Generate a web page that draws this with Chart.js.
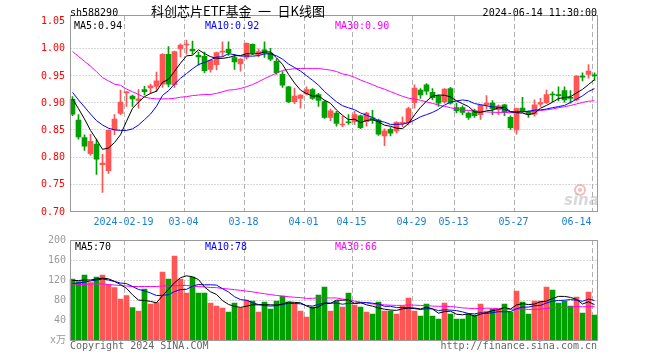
<!DOCTYPE html>
<html><head><meta charset="utf-8">
<script src="https://cdn.jsdelivr.net/npm/chart.js@4/dist/chart.umd.min.js"></script>
<style>
html,body{margin:0;padding:0;background:#fff;}
#wrap{position:relative;width:660px;height:360px;overflow:hidden;background:#fff;}
#c1{position:absolute;left:0;top:0;width:660px;height:232px;}
#c2{position:absolute;left:0;top:230px;width:660px;height:130px;}
</style></head><body>
<div id="wrap"><canvas id="c1" width="660" height="232"></canvas><canvas id="c2" width="660" height="130"></canvas></div>
<script>
// ---- data ----
const dates = ['01-29','01-30','01-31','02-01','02-02','02-05','02-06','02-07','02-08',
 '02-19','02-20','02-21','02-22','02-23','02-26','02-27','02-28','02-29','03-01',
 '03-04','03-05','03-06','03-07','03-08','03-11','03-12','03-13','03-14','03-15',
 '03-18','03-19','03-20','03-21','03-22','03-25','03-26','03-27','03-28','03-29',
 '04-01','04-02','04-03','04-08','04-09','04-10','04-11','04-12',
 '04-15','04-16','04-17','04-18','04-19','04-22','04-23','04-24','04-25','04-26',
 '04-29','04-30','05-06','05-07','05-08','05-09','05-10',
 '05-13','05-14','05-15','05-16','05-17','05-20','05-21','05-22','05-23','05-24',
 '05-27','05-28','05-29','05-30','05-31','06-03','06-04','06-05','06-06','06-07',
 '06-11','06-12','06-13','06-14'];
const open = [0.907,0.869,0.837,0.807,0.825,0.787,0.776,0.851,0.881,
 0.919,0.913,0.905,0.925,0.928,0.931,0.935,0.990,0.934,1.000,
 1.007,0.999,0.988,0.986,0.962,0.971,0.994,0.999,0.984,0.972,
 0.984,1.008,0.990,0.998,0.992,0.977,0.953,0.930,0.903,0.909,
 0.917,0.925,0.916,0.903,0.874,0.882,0.860,0.865,
 0.866,0.877,0.866,0.873,0.869,0.840,0.852,0.849,0.863,0.864,
 0.901,0.924,0.934,0.920,0.913,0.903,0.927,
 0.892,0.892,0.882,0.886,0.879,0.897,0.900,0.888,0.897,0.874,
 0.851,0.891,0.883,0.880,0.898,0.901,0.916,0.916,0.923,0.910,
 0.906,0.950,0.953,0.952];
const high = [0.912,0.879,0.842,0.843,0.834,0.806,0.851,0.879,0.924,
 0.922,0.915,0.925,0.931,0.935,0.957,0.991,1.004,0.996,1.009,
 1.016,1.014,0.994,0.994,0.980,0.994,1.013,1.013,0.990,0.982,
 1.011,1.009,1.000,1.013,1.001,0.981,0.958,0.931,0.928,0.916,
 0.930,0.927,0.918,0.905,0.889,0.885,0.876,0.879,
 0.885,0.878,0.883,0.887,0.871,0.853,0.855,0.866,0.875,0.893,
 0.934,0.927,0.936,0.927,0.915,0.927,0.929,
 0.900,0.895,0.884,0.889,0.897,0.914,0.905,0.897,0.898,0.877,
 0.891,0.911,0.886,0.906,0.909,0.924,0.921,0.930,0.930,0.923,
 0.951,0.956,0.971,0.956];
const low = [0.877,0.834,0.813,0.804,0.769,0.736,0.771,0.842,0.879,
 0.894,0.894,0.891,0.915,0.918,0.921,0.929,0.930,0.929,0.985,
 0.990,0.990,0.970,0.956,0.957,0.961,0.986,0.988,0.962,0.959,
 0.981,0.989,0.985,0.984,0.978,0.953,0.929,0.901,0.899,0.891,
 0.915,0.907,0.894,0.872,0.868,0.858,0.857,0.861,
 0.861,0.853,0.858,0.863,0.841,0.822,0.840,0.845,0.857,0.861,
 0.891,0.909,0.916,0.906,0.894,0.900,0.898,
 0.882,0.879,0.870,0.874,0.870,0.889,0.879,0.879,0.877,0.852,
 0.843,0.883,0.874,0.876,0.894,0.899,0.903,0.904,0.902,0.900,
 0.904,0.941,0.946,0.942];
const close = [0.880,0.838,0.821,0.830,0.797,0.790,0.850,0.871,0.902,
 0.921,0.908,0.908,0.921,0.932,0.941,0.990,0.935,0.995,1.007,
 1.008,0.996,0.985,0.960,0.979,0.993,0.995,0.993,0.976,0.981,
 1.010,0.993,0.995,0.992,0.981,0.956,0.933,0.903,0.913,0.915,
 0.925,0.909,0.905,0.874,0.886,0.863,0.861,0.864,
 0.879,0.855,0.882,0.869,0.843,0.849,0.845,0.865,0.864,0.890,
 0.928,0.915,0.922,0.910,0.900,0.926,0.900,
 0.886,0.883,0.874,0.877,0.896,0.900,0.890,0.895,0.883,0.855,
 0.890,0.886,0.880,0.897,0.901,0.916,0.915,0.914,0.906,0.909,
 0.950,0.948,0.959,0.950];
const volume = [122,117,130,115,126,130,111,105,82,89,
 65,58,102,72,75,136,122,168,122,94,
 126,94,94,74,68,64,56,74,64,80,
 78,56,76,62,78,88,76,72,58,46,
 66,90,106,58,78,66,94,70,66,56,
 52,76,58,58,52,68,84,58,48,72,
 48,42,74,52,42,42,52,50,72,58,
 62,62,72,56,98,76,52,78,78,106,
 100,74,78,68,86,54,96,50];
// moving-average values before enough history is on screen
const ma5Head  = [0.908,0.890,0.871,0.850];
const ma10Head = [0.920,0.906,0.893,0.880,0.868,0.860,0.854,0.851,0.850];
const ma30Head = [0.995,0.986,0.977,0.968,0.958,0.947,0.941,0.935,0.933,0.926,0.921,0.916,0.911,0.909,0.908,
 0.908,0.908,0.909,0.911,0.912,0.914,0.915,0.916,0.916,0.918,0.921,0.924,0.925,0.927];
const volMa5Head  = [119,119,120,120];
const volMa10Head = [113,114,116,118,120,122,120,117,114];
const volMa30Head = [110,110.7,111,112,112,112,111,110,109,108,107,107,107,107,107,108,108,108.7,109,109,
 108,107,106,105,104.7,103,102,100.7,99.3];
const tickDates  = ['02-19','03-04','03-18','04-01','04-15','04-29','05-13','05-27','06-14'];
const tickLabels = ['2024-02-19','03-04','03-18','04-01','04-15','04-29','05-13','05-27','06-14'];
const priceTicks = [0.70,0.75,0.80,0.85,0.90,0.95,1.00,1.05];
const volTicks   = [0,40,80,120,160,200];
const priceMaLabels = ['MA5:0.94','MA10:0.92','MA30:0.90'];
const volMaLabels   = ['MA5:70','MA10:78','MA30:66'];

// ---- helpers ----
function sma(src, n, head) {
  return src.map((v, i) => {
    if (i < n - 1) return head[i];
    let s = 0; for (let k = i - n + 1; k <= i; k++) s += src[k];
    return s / n;
  });
}
const UP = '#ff5555', DOWN = '#00a000';
const colors = close.map((c, i) => c >= open[i] ? UP : DOWN);
const MONO = "'DejaVu Sans Mono', 'Noto Sans CJK SC', monospace";
const MA_COLORS = ['#000000', '#0000ff', '#ff00ff'];

const sinaPlugin = {
  id: 'sina',
  beforeDatasetsDraw(chart, args, o) {
    const { ctx, chartArea: a, scales } = chart;
    ctx.save();
    ctx.lineWidth = 1;
    ctx.strokeStyle = '#b0b0b0';
    ctx.setLineDash([1, 2]);
    o.hLines.forEach(v => {
      const py = Math.round(scales.y.getPixelForValue(v)) + o.hOff;
      ctx.beginPath(); ctx.moveTo(a.left + 1, py); ctx.lineTo(a.right, py); ctx.stroke();
    });
    ctx.setLineDash([5, 3]);
    tickDates.forEach(d => {
      const i = dates.indexOf(d);
      const px = Math.floor(scales.x.getPixelForValue(i) - 2) + 0.5;
      ctx.beginPath(); ctx.moveTo(px, a.top); ctx.lineTo(px, a.bottom); ctx.stroke();
    });
    ctx.restore();
  },
  afterDraw(chart, args, o) {
    const { ctx, chartArea: a } = chart;
    ctx.save();
    ctx.setLineDash([]);
    ctx.lineWidth = 1;
    ctx.strokeStyle = '#999999';
    const l = Math.round(a.left) + 0.5, r = Math.floor(a.right) + 0.5;
    const t = Math.round(a.top) + o.tOff, b = Math.round(a.bottom) + o.bOff;
    ctx.strokeRect(l, t, r - l, b - t);
    o.texts.forEach(s => {
      ctx.font = s.font; ctx.fillStyle = s.color;
      ctx.textAlign = s.align || 'left'; ctx.textBaseline = 'middle';
      ctx.fillText(s.t, s.x, s.y);
    });
    if (o.logo) {
      ctx.globalAlpha = 0.55;
      ctx.strokeStyle = '#f08080'; ctx.lineWidth = 2;
      ctx.beginPath(); ctx.arc(580, 190, 5, 0, Math.PI * 2); ctx.stroke();
      ctx.fillStyle = '#f08080';
      ctx.beginPath(); ctx.arc(580, 190, 2, 0, Math.PI * 2); ctx.fill();
      ctx.fillStyle = '#b8b8b8';
      ctx.font = "italic bold 15px 'DejaVu Sans'";
      ctx.textAlign = 'left'; ctx.textBaseline = 'alphabetic';
      ctx.fillText('sina', 564, 205);
    }
    ctx.restore();
  }
};

const f10 = "10px " + MONO;

// ---- price chart ----
new Chart(document.getElementById('c1'), {
  type: 'bar',
  plugins: [sinaPlugin],
  data: {
    labels: dates,
    datasets: [
      { type: 'bar', data: low.map((l, i) => [l, high[i]]), backgroundColor: colors, barThickness: 1, grouped: false, order: 5 },
      { type: 'bar', data: open.map((o, i) => [o, close[i]]), backgroundColor: colors, barThickness: 5, minBarLength: 1, grouped: false, order: 4 },
      { type: 'line', data: sma(close, 30, ma30Head), borderColor: MA_COLORS[2], borderWidth: 1, pointRadius: 0, order: 3 },
      { type: 'line', data: sma(close, 10, ma10Head), borderColor: MA_COLORS[1], borderWidth: 1, pointRadius: 0, order: 2 },
      { type: 'line', data: sma(close, 5, ma5Head), borderColor: MA_COLORS[0], borderWidth: 1, pointRadius: 0, order: 1 }
    ]
  },
  options: {
    responsive: false, animation: false, events: [],
    layout: { padding: { left: 0, right: 62.5, top: 16, bottom: 0 } },
    plugins: {
      legend: { display: false }, tooltip: { enabled: false },
      sina: {
        hLines: priceTicks.filter(v => v > 0.71 && v < 1.04), hOff: -0.5, tOff: -0.5, bOff: -0.5, logo: true,
        texts: [
          { t: 'sh588290', x: 70, y: 13, color: '#000', font: f10 },
          { t: '科创芯片ETF基金\u2002一\u2002日K线图', x: 238, y: 11, color: '#000', font: "13px 'Noto Sans CJK SC'", align: 'center' },
          { t: '2024-06-14 11:30:00', x: 597, y: 13, color: '#000', font: f10, align: 'right' },
          { t: priceMaLabels[0], x: 74, y: 26, color: MA_COLORS[0], font: f10 },
          { t: priceMaLabels[1], x: 205, y: 26, color: MA_COLORS[1], font: f10 },
          { t: priceMaLabels[2], x: 335, y: 26, color: MA_COLORS[2], font: f10 }
        ]
      }
    },
    scales: {
      x: {
        offset: true,
        grid: { display: false, drawTicks: false }, border: { display: false },
        ticks: {
          autoSkip: false, maxRotation: 0, minRotation: 0, padding: 4, labelOffset: -3,
          color: '#1a7fd4', font: { family: MONO, size: 10 },
          callback: (v) => {
            const k = tickDates.indexOf(dates[v]);
            if (k < 0) return '';
            return v === dates.length - 1 ? tickLabels[k] + '     ' : tickLabels[k];
          }
        },
        afterFit: s => { s.height = 20; }
      },
      y: {
        min: 0.70, max: 1.0603,
        grid: { display: false, drawTicks: false }, border: { display: false },
        afterBuildTicks: s => { s.ticks = priceTicks.map(v => ({ value: v })); },
        ticks: { color: '#ff0000', font: { family: MONO, size: 10 }, padding: 4.5, callback: v => Number(v).toFixed(2) },
        afterFit: s => { s.width = 69.5; }
      }
    }
  }
});

// ---- volume chart ----
new Chart(document.getElementById('c2'), {
  type: 'bar',
  plugins: [sinaPlugin],
  data: {
    labels: dates,
    datasets: [
      { type: 'bar', data: volume, backgroundColor: colors, barThickness: 5, grouped: false, order: 4 },
      { type: 'line', data: sma(volume, 30, volMa30Head), borderColor: MA_COLORS[2], borderWidth: 1, pointRadius: 0, order: 3 },
      { type: 'line', data: sma(volume, 10, volMa10Head), borderColor: MA_COLORS[1], borderWidth: 1, pointRadius: 0, order: 2 },
      { type: 'line', data: sma(volume, 5, volMa5Head), borderColor: MA_COLORS[0], borderWidth: 1, pointRadius: 0, order: 1 }
    ]
  },
  options: {
    responsive: false, animation: false, events: [],
    layout: { padding: { left: 0, right: 62.5, top: 10, bottom: 20 } },
    plugins: {
      legend: { display: false }, tooltip: { enabled: false },
      sina: {
        hLines: volTicks.filter(v => v > 0 && v < 200), hOff: 0.5, tOff: 0.5, bOff: 0.5, logo: false,
        texts: [
          { t: volMaLabels[0], x: 75, y: 17, color: MA_COLORS[0], font: f10 },
          { t: volMaLabels[1], x: 205, y: 17, color: MA_COLORS[1], font: f10 },
          { t: volMaLabels[2], x: 335, y: 17, color: MA_COLORS[2], font: f10 },
          { t: 'Copyright 2024 SINA.COM', x: 70, y: 116, color: '#666', font: f10 },
          { t: 'http://finance.sina.com.cn', x: 597, y: 116, color: '#666', font: f10, align: 'right' }
        ]
      }
    },
    scales: {
      x: { offset: true, display: false, grid: { display: false } },
      y: {
        min: 0, max: 200,
        grid: { display: false, drawTicks: false }, border: { display: false },
        afterBuildTicks: s => { s.ticks = volTicks.map(v => ({ value: v })); },
        ticks: { color: '#999', font: { family: MONO, size: 10 }, padding: 3.5, callback: v => v === 0 ? 'x万' : String(v) },
        afterFit: s => { s.width = 69.5; }
      }
    }
  }
});
</script>
</body></html>
